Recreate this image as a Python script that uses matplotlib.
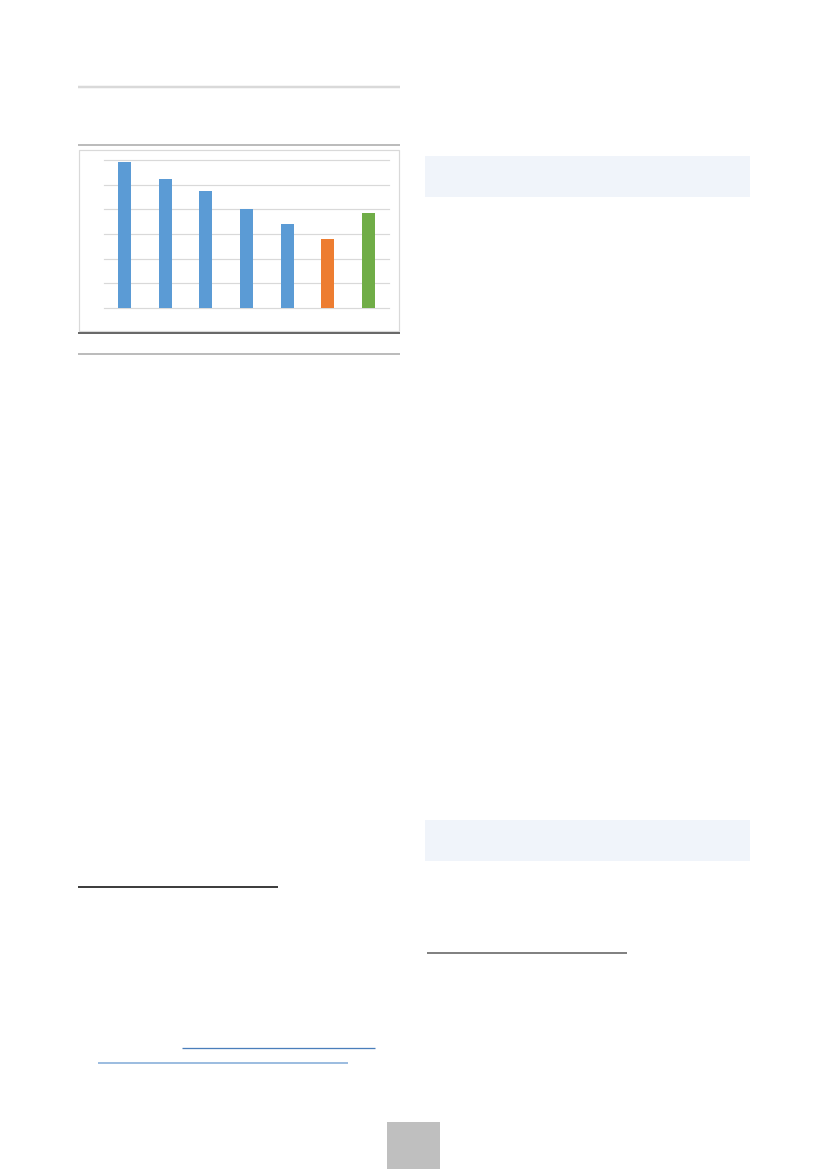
import matplotlib
matplotlib.use("Agg")
import matplotlib.pyplot as plt
from matplotlib.patches import Rectangle

# bar chart data (in gridline units, 6 gridlines)
categories = ["1", "2", "3", "4", "5", "6", "7"]
values = [5.9, 5.25, 4.75, 4.0, 3.4, 2.8, 3.85]
bar_colors = ["#5B9BD5"] * 5 + ["#ED7D31", "#70AD47"]
grid_ticks = [0, 1, 2, 3, 4, 5, 6]

W, H = 827, 1169
fig = plt.figure(figsize=(W / 100, H / 100), dpi=100)

# page overlay in pixel coordinates
page = fig.add_axes([0, 0, 1, 1])
page.set_xlim(0, W)
page.set_ylim(H, 0)
page.axis("off")

px = 0.72  # one pixel in points

def hline(y, x0, x1, color, lw):
    page.plot([x0, x1], [y, y], color=color, linewidth=lw * px, solid_capstyle="butt")

# rules around the chart
hline(87, 78, 400, "#d9d9d9", 2.5)
hline(145, 78, 400, "#a6a6a6", 1.5)
hline(333, 78, 400, "#595959", 1.8)
hline(354, 78, 400, "#a6a6a6", 1.5)

# chart frame
page.add_patch(Rectangle((79, 150), 320, 181, fill=False, edgecolor="#d9d9d9", linewidth=1.2 * px))

# shaded boxes in right column
page.add_patch(Rectangle((425, 156), 325, 41, facecolor="#F0F4FA", edgecolor="none"))
page.add_patch(Rectangle((425, 820), 325, 41, facecolor="#F0F4FA", edgecolor="none"))

# footnote / link lines
hline(887, 78, 278, "#000000", 1.5)
hline(953, 427, 627, "#595959", 1.5)
hline(1048, 182, 375, "#4a7ebb", 1.3)
hline(1063, 98, 348, "#9dbde0", 2)

# page number box
page.add_patch(Rectangle((387, 1122), 53, 47, facecolor="#bfbfbf", edgecolor="none"))

# chart
ax = fig.add_axes([104 / W, 1 - 308 / H, 285 / W, 148 / H])
ax.bar(range(len(categories)), values, width=0.32, color=bar_colors, zorder=3)
ax.set_xlim(-0.5, len(categories) - 0.5)
ax.set_ylim(0, 6)
ax.set_yticks(grid_ticks)
ax.set_xticks([])
ax.tick_params(left=False, labelleft=False)
ax.grid(axis="y", color="#d9d9d9", linewidth=1.2 * px, zorder=0)
for gl in ax.get_ygridlines():
    gl.set_clip_on(False)
for s in ax.spines.values():
    s.set_visible(False)
ax.patch.set_alpha(0)

fig.savefig("out.png", dpi=100)
